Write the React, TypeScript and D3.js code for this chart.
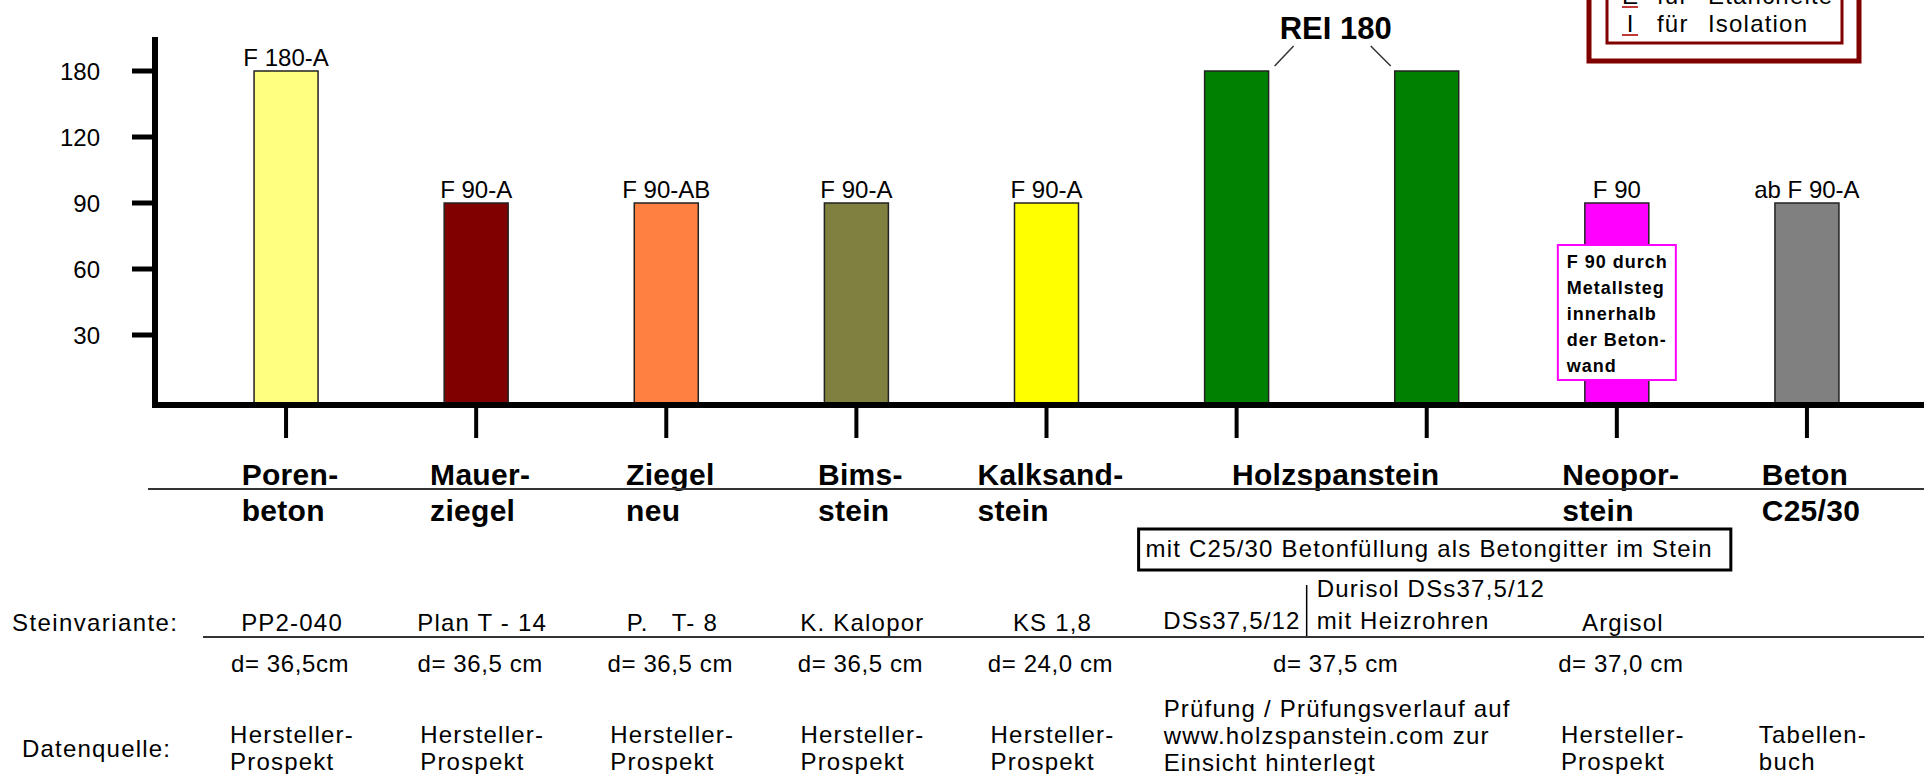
import React, { useEffect, useRef } from 'react';
import * as d3 from 'd3';

// bars, one per tested stone
const barKeys = [
  'Porenbeton',
  'Mauerziegel',
  'Ziegel neu',
  'Bimsstein',
  'Kalksandstein',
  'Holzspanstein DSs',
  'Holzspanstein Durisol',
  'Neoporstein',
  'Beton C25/30',
];
const fireMinutes = [180, 90, 90, 90, 90, 180, 180, 90, 90];
const fireLabels = ['F 180-A', 'F 90-A', 'F 90-AB', 'F 90-A', 'F 90-A', '', '', 'F 90', 'ab F 90-A'];
const barColors = ['#ffff80', '#800000', '#ff8040', '#808040', '#ffff00', '#008000', '#008000', '#ff00ff', '#808080'];
const yTickValues = [30, 60, 90, 120, 180];

// material groups (Holzspanstein spans two bars)
const materialLabels = [
  ['Poren-', 'beton'],
  ['Mauer-', 'ziegel'],
  ['Ziegel', 'neu'],
  ['Bims-', 'stein'],
  ['Kalksand-', 'stein'],
  ['Holzspanstein'],
  ['Neopor-', 'stein'],
  ['Beton', 'C25/30'],
];
const materialBars = [[0], [1], [2], [3], [4], [5, 6], [7], [8]];
const variantLabels = [
  ['PP2-040'],
  ['Plan T - 14'],
  ['P.   T- 8'],
  ['K. Kalopor'],
  ['KS 1,8'],
  ['DSs37,5/12'],
  ['Durisol DSs37,5/12', 'mit Heizrohren'],
  ['Argisol'],
  [],
];
const thicknessLabels = ['d= 36,5cm', 'd= 36,5 cm', 'd= 36,5 cm', 'd= 36,5 cm', 'd= 24,0 cm', 'd= 37,5 cm', 'd= 37,0 cm', ''];
const sourceLabels = [
  ['Hersteller-', 'Prospekt'],
  ['Hersteller-', 'Prospekt'],
  ['Hersteller-', 'Prospekt'],
  ['Hersteller-', 'Prospekt'],
  ['Hersteller-', 'Prospekt'],
  ['Prüfung / Prüfungsverlauf auf', 'www.holzspanstein.com zur', 'Einsicht hinterlegt'],
  ['Hersteller-', 'Prospekt'],
  ['Tabellen-', 'buch'],
];
const rowTitles = ['Steinvariante:', 'Datenquelle:'];

// annotations
const reiLabel = 'REI 180';
const reiBars = [5, 6];
const fillNote = 'mit C25/30 Betonfüllung als Betongitter im Stein';
const fillBars = [5, 7];
const neoporNote = ['F 90 durch', 'Metallsteg', 'innerhalb', 'der Beton-', 'wand'];
const neoporBar = 7;
const legendRows = [
  ['E', 'für', 'Etanchéité'],
  ['I', 'für', 'Isolation'],
];

const FONT = "'Liberation Sans', Arial, Helvetica, sans-serif";

class FireChart {
  svg;
  x;
  y;
  cx;

  constructor(containerEl: any, width: number, height: number) {
    d3.select(containerEl).selectAll('*').remove();
    this.svg = d3
      .select(containerEl)
      .append('svg')
      .attr('width', width)
      .attr('height', height)
      .style('position', 'absolute')
      .style('left', '0px')
      .style('top', '0px')
      .style('background', '#fff')
      .attr('font-family', FONT);

    this.x = d3.scaleBand().domain(barKeys).range([191, 1902]);
    this.cx = (i: number) => (this.x(barKeys[i]) as number) + this.x.bandwidth() / 2;
    // tick values are drawn equally spaced, so the scale is piecewise
    this.y = d3
      .scaleLinear()
      .domain([0, ...yTickValues])
      .range(d3.range(yTickValues.length + 1).map((i) => 401 - i * 66));

    this.drawLegend();
    this.drawBars();
    this.drawAxes();
    this.drawTable();
  }

  // multi line text block, left aligned lines, centred on anchor by its widest line
  block(lines: string[], anchor: number, baseline: number, lineH: number, size: number, weight: string, spacing: number) {
    const t = this.svg
      .append('text')
      .attr('y', baseline)
      .attr('font-size', size)
      .attr('font-weight', weight)
      .attr('letter-spacing', spacing)
      .style('white-space', 'pre');
    lines.forEach((l, i) => {
      t.append('tspan').attr('x', 0).attr('dy', i === 0 ? 0 : lineH).text(l);
    });
    const w = t.node().getBBox().width;
    t.attr('transform', 'translate(' + (anchor - w / 2) + ',0)');
    return t;
  }

  drawLegend() {
    const g = this.svg.append('g');
    g.append('rect')
      .attr('x', 1589).attr('y', -60).attr('width', 270).attr('height', 121)
      .attr('fill', '#fff').attr('stroke', '#800000').attr('stroke-width', 5);
    g.append('rect')
      .attr('x', 1607).attr('y', -60).attr('width', 235).attr('height', 103)
      .attr('fill', 'none').attr('stroke', '#800000').attr('stroke-width', 3);
    legendRows.forEach((row, i) => {
      const base = 4 + i * 28;
      g.append('text').attr('x', 1630).attr('y', base).attr('text-anchor', 'middle')
        .attr('font-size', 24).text(row[0]);
      g.append('line').attr('x1', 1622).attr('x2', 1638).attr('y1', base + 3).attr('y2', base + 3)
        .attr('stroke', '#c03838').attr('stroke-width', 2);
      g.append('text').attr('x', 1657).attr('y', base).attr('font-size', 24)
        .attr('letter-spacing', 1.2).text(row[1]);
      g.append('text').attr('x', 1708).attr('y', base).attr('font-size', 24)
        .attr('letter-spacing', 1.2).text(row[2]);
    });
  }

  drawBars() {
    const self = this;
    const y0 = this.y(0);
    this.svg
      .append('g')
      .selectAll('rect')
      .data(barKeys)
      .join('rect')
      .attr('x', (d, i) => self.cx(i) - 32)
      .attr('y', (d, i) => self.y(fireMinutes[i]))
      .attr('width', 64)
      .attr('height', (d, i) => y0 - self.y(fireMinutes[i]) + 2)
      .attr('fill', (d, i) => barColors[i])
      .attr('stroke', '#222')
      .attr('stroke-width', 1.5);

    this.svg
      .append('g')
      .selectAll('text')
      .data(barKeys)
      .join('text')
      .attr('x', (d, i) => self.cx(i))
      .attr('y', (d, i) => self.y(fireMinutes[i]) - 5)
      .attr('text-anchor', 'middle')
      .attr('font-size', 24)
      .text((d, i) => fireLabels[i]);

    // REI 180 over the two Holzspanstein bars
    const top = this.y(fireMinutes[reiBars[0]]);
    const left = this.cx(reiBars[0]) + 32;
    const right = this.cx(reiBars[1]) - 32;
    this.svg.append('text')
      .attr('x', (left + right) / 2 + 4).attr('y', top - 32)
      .attr('text-anchor', 'middle').attr('font-size', 31).attr('font-weight', 'bold')
      .text(reiLabel);
    this.svg.append('line')
      .attr('x1', left + 6).attr('y1', top - 5).attr('x2', left + 25).attr('y2', top - 25)
      .attr('stroke', '#333').attr('stroke-width', 1.5);
    this.svg.append('line')
      .attr('x1', right - 4).attr('y1', top - 5).attr('x2', right - 24).attr('y2', top - 25)
      .attr('stroke', '#333').attr('stroke-width', 1.5);

    // note inside the Neopor bar
    const nx = this.cx(neoporBar) - 59;
    const ny = this.y(fireMinutes[neoporBar]) + 42;
    this.svg.append('rect')
      .attr('x', nx).attr('y', ny).attr('width', 118).attr('height', 135)
      .attr('fill', '#fff').attr('stroke', '#ff00ff').attr('stroke-width', 2);
    const nt = this.svg.append('text')
      .attr('font-size', 18).attr('font-weight', 'bold').attr('letter-spacing', 1);
    neoporNote.forEach((l, i) => {
      nt.append('tspan').attr('x', nx + 9).attr('y', ny + 23 + i * 26).text(l);
    });
  }

  drawAxes() {
    const self = this;
    // y axis
    this.svg.append('line')
      .attr('x1', 155).attr('x2', 155).attr('y1', 37).attr('y2', 408)
      .attr('stroke', '#000').attr('stroke-width', 6);
    const ticks = this.svg.append('g').selectAll('g').data(yTickValues).join('g');
    ticks.append('line')
      .attr('x1', 132).attr('x2', 155)
      .attr('y1', (d) => self.y(d)).attr('y2', (d) => self.y(d))
      .attr('stroke', '#000').attr('stroke-width', 5);
    ticks.append('text')
      .attr('x', 100).attr('y', (d) => self.y(d)).attr('dy', '0.36em')
      .attr('text-anchor', 'end').attr('font-size', 24)
      .text((d) => d);

    // x axis
    this.svg.append('line')
      .attr('x1', 152).attr('x2', 1924).attr('y1', 405).attr('y2', 405)
      .attr('stroke', '#000').attr('stroke-width', 6);
    this.svg.append('g').selectAll('line').data(barKeys).join('line')
      .attr('x1', (d, i) => self.cx(i)).attr('x2', (d, i) => self.cx(i))
      .attr('y1', 408).attr('y2', 438)
      .attr('stroke', '#000').attr('stroke-width', 4);
  }

  drawTable() {
    const mid = (bars: number[]) => d3.mean(bars, (b) => this.cx(b)) as number;

    // material names
    materialLabels.forEach((lines, i) => {
      this.block(lines, mid(materialBars[i]) + 4, 485, 36, 30, 'bold', 0.3);
    });
    this.svg.append('line')
      .attr('x1', 148).attr('x2', 1924).attr('y1', 489).attr('y2', 489)
      .attr('stroke', '#333').attr('stroke-width', 2);

    // concrete filling note
    const fx = this.cx(fillBars[0]) - 98;
    const ft = this.svg.append('text')
      .attr('x', fx + 7).attr('y', 557).attr('font-size', 24).attr('letter-spacing', 1.2)
      .text(fillNote);
    const fw = ft.node().getBBox().width;
    this.svg.append('rect')
      .attr('x', fx).attr('y', 529).attr('width', Math.max(fw + 14, this.cx(fillBars[1]) + 114 - fx)).attr('height', 41)
      .attr('fill', 'none').attr('stroke', '#000').attr('stroke-width', 3);

    // stone variants
    this.svg.append('text').attr('x', 12).attr('y', 631).attr('font-size', 24)
      .attr('letter-spacing', 1.4).text(rowTitles[0]);
    const hb = materialBars[5];
    const sep = (this.cx(hb[0]) + this.cx(hb[1])) / 2 - 25;
    variantLabels.forEach((lines, i) => {
      if (!lines.length) return;
      if (i === hb[0]) {
        this.svg.append('text').attr('x', sep - 6).attr('y', 629).attr('text-anchor', 'end')
          .attr('font-size', 24).attr('letter-spacing', 1.2).text(lines[0]);
      } else if (i === hb[1]) {
        const t = this.svg.append('text').attr('font-size', 24).attr('letter-spacing', 1.2);
        lines.forEach((l, j) => {
          t.append('tspan').attr('x', sep + 10).attr('y', 629 - (lines.length - 1 - j) * 32).text(l);
        });
      } else {
        this.block(lines, this.cx(i) + 6, 631, 28, 24, 'normal', 1.2);
      }
    });
    this.svg.append('line').attr('x1', sep).attr('x2', sep).attr('y1', 585).attr('y2', 637)
      .attr('stroke', '#000').attr('stroke-width', 1.5);
    this.svg.append('line')
      .attr('x1', 203).attr('x2', 1924).attr('y1', 637).attr('y2', 637)
      .attr('stroke', '#333').attr('stroke-width', 2);

    // wall thickness
    thicknessLabels.forEach((t, i) => {
      if (!t) return;
      this.block([t], mid(materialBars[i]) + 4, 672, 28, 24, 'normal', 0.6);
    });

    // data source
    this.svg.append('text').attr('x', 22).attr('y', 757).attr('font-size', 24)
      .attr('letter-spacing', 1.2).text(rowTitles[1]);
    sourceLabels.forEach((lines, i) => {
      const base = lines.length > 2 ? 717 : 743;
      this.block(lines, mid(materialBars[i]) + 6, base, 27, 24, 'normal', 1.2);
    });
  }
}

export default function App() {
  const ref = useRef<HTMLDivElement>(null);
  useEffect(() => {
    new FireChart(ref.current, 1924, 774);
  }, []);
  return <div ref={ref} />;
}
